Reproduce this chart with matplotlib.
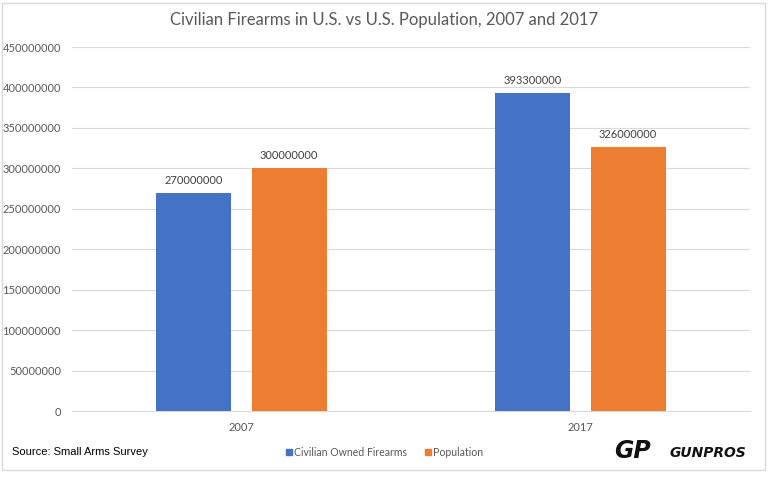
import matplotlib
matplotlib.use("Agg")
import matplotlib.pyplot as plt
from matplotlib.patches import Rectangle
import numpy as np

categories = ["2007", "2017"]
firearms = [270000000, 393300000]
population = [300000000, 326000000]
series_names = ["Civilian Owned Firearms", "Population"]
colors = ["#4472C4", "#ED7D31"]
yticks = [0, 50000000, 100000000, 150000000, 200000000, 250000000,
          300000000, 350000000, 400000000, 450000000]

plt.rcParams['font.family'] = ['Lato', 'DejaVu Sans']
fig = plt.figure(figsize=(7.68, 4.8), dpi=100)
ax = fig.add_axes([72/768, 1-411/480, 678/768, 364/480])

x = np.arange(len(categories))
w = 0.222
gap = 0.059
off = (w + gap) / 2
b1 = ax.bar(x - off, firearms, w, color=colors[0], label=series_names[0], zorder=3)
b2 = ax.bar(x + off, population, w, color=colors[1], label=series_names[1], zorder=3)
for bars, vals in ((b1, firearms), (b2, population)):
    for r, v in zip(bars, vals):
        ax.annotate(f"{v}", (r.get_x() + r.get_width()/2, v), xytext=(0, 5),
                    textcoords="offset points", ha="center", va="bottom",
                    fontsize=8, color="#404040")

ax.set_xlim(-0.5, 1.5)
ax.set_ylim(0, 450000000)
ax.set_yticks(yticks)
ax.set_yticklabels([str(t) for t in yticks], fontsize=8, color="#595959")
ax.set_xticks(x)
ax.set_xticklabels(categories, fontsize=8, color="#595959")
ax.tick_params(length=0, pad=8)
ax.grid(axis='y', color="#d9d9d9", linewidth=0.8, zorder=0)
for s in ["top", "right", "left"]:
    ax.spines[s].set_visible(False)
ax.spines["bottom"].set_color("#d9d9d9")

fig.text(0.5, 1-20/480, "Civilian Firearms in U.S. vs U.S. Population, 2007 and 2017",
         ha="center", va="center", fontsize=12, color="#595959")

fig.text(12/768, 1-452/480, "Source: Small Arms Survey", ha="left", va="center",
         fontsize=8, color="#000000", family=["Liberation Sans", "DejaVu Sans"])

# legend
lx_positions = [286, 425]
for name, c, lx in zip(series_names, colors, lx_positions):
    fig.patches.append(Rectangle((lx/768, 1-455/480), 6/768, 6/480, transform=fig.transFigure,
                                 color=c))
    fig.text((lx+8)/768, 1-452/480, name, ha="left", va="center", fontsize=7.6, color="#595959")

fig.text(614/768, 1-451/480, "GP", ha="left", va="center", fontsize=17, fontweight="heavy",
         style="italic", color="#111111", family=["DejaVu Sans"])
fig.text(670/768, 1-453/480, "GUNPROS", ha="left", va="center", fontsize=10, fontweight="bold",
         style="italic", color="#111111", family=["DejaVu Sans"])

fig.patches.append(Rectangle((2/768, 1-470/480), 763/768, 467/480, transform=fig.transFigure,
                             fill=False, edgecolor="#d9d9d9", linewidth=1))

fig.savefig("out.png", dpi=100, facecolor="white")
